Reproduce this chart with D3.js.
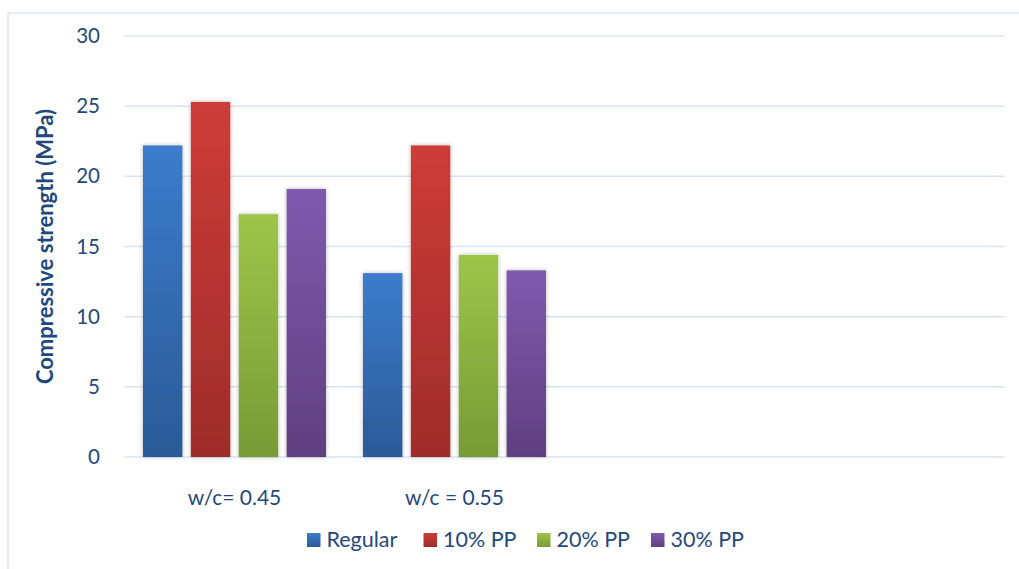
<!DOCTYPE html>
<html>
<head>
<meta charset="utf-8">
<script src="https://cdn.jsdelivr.net/npm/d3@7/dist/d3.min.js"></script>
<style>
  html, body { margin: 0; padding: 0; background: #ffffff; }
  svg { display: block; }
  text { font-family: Lato, "Open Sans", sans-serif; fill: #1f497d; }
</style>
</head>
<body>
<svg id="chart" width="1019" height="569"></svg>
<script>
// Category slots on the x axis (the last two are empty)
const categories = ["w/c= 0.45", "w/c = 0.55", "", ""];
const seriesNames = ["Regular", "10% PP", "20% PP", "30% PP"];
const regular = [22.2, 13.1];
const pp10 = [25.3, 22.2];
const pp20 = [17.3, 14.4];
const pp30 = [19.1, 13.3];
const yTicks = [0, 5, 10, 15, 20, 25, 30];

const seriesValues = [regular, pp10, pp20, pp30];
const colorTop = ["#3c7ccc", "#cd3c38", "#9ec54a", "#7f5aae"];
const colorBottom = ["#2b5a96", "#9e2c2a", "#789a36", "#5e407f"];

const svg = d3.select("#chart");
const W = 1019, H = 569;
const plot = { left: 124.5, right: 1004.5, top: 36, bottom: 457 };

const defs = svg.append("defs");
seriesNames.forEach((n, i) => {
  const g = defs.append("linearGradient")
    .attr("id", "grad" + i).attr("x1", 0).attr("y1", 0).attr("x2", 0).attr("y2", 1);
  g.append("stop").attr("offset", "0%").attr("stop-color", colorTop[i]);
  g.append("stop").attr("offset", "100%").attr("stop-color", colorBottom[i]);
});
const shadow = defs.append("filter").attr("id", "barShadow")
  .attr("x", "-30%").attr("y", "-10%").attr("width", "160%").attr("height", "120%");
shadow.append("feDropShadow").attr("dx", 0).attr("dy", 0)
  .attr("stdDeviation", 2.2).attr("flood-color", "#000").attr("flood-opacity", 0.28);

// Chart frame (top and left edges)
svg.append("path")
  .attr("d", `M8,${H} L8,13 L${W},13`)
  .attr("fill", "none").attr("stroke", "#dae5f3").attr("stroke-width", 1.5);

const x0 = d3.scaleBand().domain(d3.range(categories.length))
  .range([plot.left, plot.right]).paddingInner(0).paddingOuter(0);
const x1 = d3.scaleBand().domain(d3.range(seriesNames.length))
  .range([18.5, x0.bandwidth() - 18.5]).paddingInner(0.177).paddingOuter(0);
const y = d3.scaleLinear().domain([0, 30]).range([plot.bottom, plot.top]);

// Gridlines
svg.append("g").selectAll("line").data(yTicks).join("line")
  .attr("x1", plot.left).attr("x2", plot.right)
  .attr("y1", d => y(d)).attr("y2", d => y(d))
  .attr("stroke", "#d9e4f3").attr("stroke-width", 1.5);

// Y axis labels
const yAxis = d3.axisLeft(y).tickValues(yTicks).tickSize(0).tickPadding(0);
const yg = svg.append("g").attr("transform", `translate(100,0)`).call(yAxis);
yg.select(".domain").remove();
yg.selectAll("text").attr("font-size", 20.5).attr("fill", "#1f497d")
  .attr("font-family", "Lato, sans-serif");

// Bars
const groups = svg.append("g").selectAll("g")
  .data(categories.map((c, ci) => ci).filter(ci => regular[ci] !== undefined))
  .join("g").attr("transform", ci => `translate(${x0(ci)},0)`);
groups.selectAll("rect")
  .data(ci => seriesValues.map((vals, si) => ({ si, v: vals[ci] })))
  .join("rect")
  .attr("x", d => x1(d.si)).attr("width", x1.bandwidth())
  .attr("y", d => y(d.v)).attr("height", d => y(0) - y(d.v))
  .attr("fill", d => `url(#grad${d.si})`)
  .attr("filter", "url(#barShadow)");

// Category labels
const xAxis = d3.axisBottom(x0).tickFormat(i => categories[i]).tickSize(0).tickPadding(0);
const xg = svg.append("g").attr("transform", `translate(0,505)`).call(xAxis);
xg.select(".domain").remove();
xg.selectAll("text").attr("font-size", 21).attr("dy", 0)
  .attr("fill", "#1f497d").attr("font-family", "Lato, sans-serif");

// Y axis title
svg.append("text")
  .attr("transform", `translate(53,${(plot.top + plot.bottom) / 2}) rotate(-90)`)
  .attr("text-anchor", "middle")
  .attr("font-size", 22).attr("font-weight", "bold")
  .text("Compressive strength (MPa)");

// Legend
const legendX = [307, 423.5, 537, 651];
const leg = svg.append("g").selectAll("g").data(seriesNames).join("g")
  .attr("transform", (d, i) => `translate(${legendX[i]},533)`);
leg.append("rect").attr("width", 13.5).attr("height", 14)
  .attr("fill", (d, i) => `url(#grad${i})`);
leg.append("text").attr("x", 19.5).attr("y", 14)
  .attr("font-size", 21.5).text(d => d);
</script>
</body>
</html>
